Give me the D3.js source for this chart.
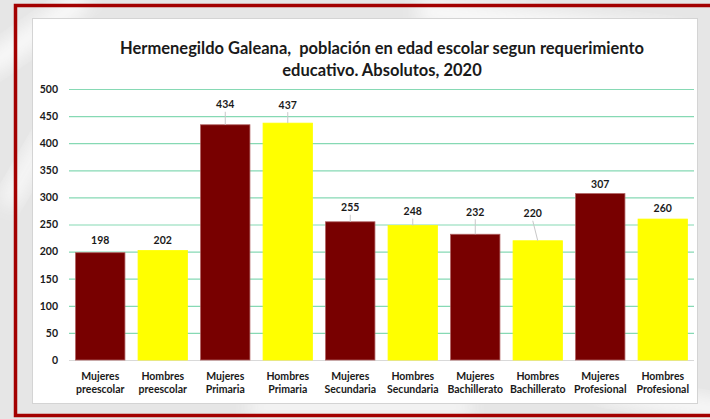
<!DOCTYPE html>
<html>
<head>
<meta charset="utf-8">
<script src="https://cdn.jsdelivr.net/npm/d3@7"></script>
<style>
  body { margin: 0; background: #ececec; }
  svg { display: block; }
</style>
</head>
<body>
<div id="chart"></div>
<script>
// chart data
var categories = ["Mujeres preescolar", "Hombres preescolar", "Mujeres Primaria", "Hombres Primaria",
                  "Mujeres Secundaria", "Hombres Secundaria", "Mujeres Bachillerato", "Hombres Bachillerato",
                  "Mujeres Profesional", "Hombres Profesional"];
var values = [198, 202, 434, 437, 255, 248, 232, 220, 307, 260];
var yTicks = [0, 50, 100, 150, 200, 250, 300, 350, 400, 450, 500];
var titleLines = ["Hermenegildo Galeana,  población en edad escolar segun requerimiento",
                  "educativo. Absolutos, 2020"];

// label placement as in the original (px above bar top, px shift sideways)
var labelLift = [12, 10, 20, 18, 14, 14, 22, 27, 9, 11];
var labelShift = [0, 0, 0, 0, 0, 0, 0, -5, 0, 0];

var W = 710, H = 419;
var font = "Lato, 'Open Sans', sans-serif";
var svg = d3.select("#chart").append("svg")
  .attr("width", W)
  .attr("height", H);

var defs = svg.append("defs");
var blur = defs.append("filter").attr("id", "blur")
  .attr("x", "-50%").attr("y", "-50%").attr("width", "200%").attr("height", "200%");
blur.append("feGaussianBlur").attr("stdDeviation", 9);

// textured grey background
svg.append("rect").attr("width", W).attr("height", H).attr("fill", "#e6e6e6");
var streaks = [[-20, 60, 120, 20, -35], [60, 340, 160, 18, -40], [420, 0, 260, 22, 6],
               [0, 200, 90, 16, -60], [600, 380, 200, 18, 10], [250, 400, 220, 14, 0]];
streaks.forEach(function (s) {
  svg.append("rect")
    .attr("x", s[0]).attr("y", s[1]).attr("width", s[2]).attr("height", s[3])
    .attr("fill", "#ffffff").attr("opacity", 0.85)
    .attr("transform", "rotate(" + s[4] + "," + s[0] + "," + s[1] + ")")
    .attr("filter", "url(#blur)");
});

// red frame
svg.append("rect")
  .attr("x", 15.5).attr("y", 5.5).attr("width", 720).attr("height", 410)
  .attr("fill", "none").attr("stroke", "#a30000").attr("stroke-width", 3.5);

// chart area
svg.append("rect")
  .attr("x", 32.5).attr("y", 18.5).attr("width", 665).attr("height", 385)
  .attr("fill", "#ffffff").attr("stroke", "#d4d4d4");

var title = svg.append("text")
  .attr("text-anchor", "middle")
  .style("font-family", font)
  .style("font-size", "16.5px")
  .style("font-weight", "bold")
  .style("white-space", "pre")
  .attr("fill", "#1a1a1a");
titleLines.forEach(function (t, i) {
  title.append("tspan").attr("x", 382).attr("y", 54 + i * 22).text(t);
});

var margin = { left: 69, right: 16, top: 89, bottom: 59 };
var x = d3.scaleBand()
  .domain(categories)
  .range([margin.left, W - margin.right])
  .paddingInner(0.21)
  .paddingOuter(0.105);
var y = d3.scaleLinear()
  .domain([0, 500])
  .range([H - margin.bottom, margin.top]);

// y axis with gridlines
var yAxis = svg.append("g")
  .attr("transform", "translate(" + margin.left + ",0)")
  .call(d3.axisLeft(y).tickValues(yTicks).tickSize(-(W - margin.right - margin.left)).tickPadding(11));
yAxis.select(".domain").remove();
yAxis.selectAll(".tick line")
  .attr("stroke", function (d) { return d === 0 ? "#d9d9d9" : "#86d9b4"; })
  .attr("stroke-width", 1.2);
yAxis.selectAll(".tick text")
  .style("font-family", font)
  .style("font-size", "10.5px")
  .style("font-weight", "bold")
  .attr("fill", "#1a1a1a");

// bars
svg.selectAll("rect.bar")
  .data(values)
  .enter().append("rect")
  .attr("class", "bar")
  .attr("x", function (d, i) { return x(categories[i]); })
  .attr("y", function (d) { return y(d); })
  .attr("width", x.bandwidth())
  .attr("height", function (d) { return y(0) - y(d); })
  .attr("fill", function (d, i) { return i % 2 === 0 ? "#780000" : "#ffff00"; })
  .attr("stroke", function (d, i) { return i % 2 === 0 ? "#b06060" : "#ffff00"; })
  .attr("stroke-width", 0.8);

// leader lines
values.forEach(function (d, i) {
  if (labelLift[i] < 13) return;
  var cx = x(categories[i]) + x.bandwidth() / 2;
  svg.append("line")
    .attr("x1", cx + labelShift[i]).attr("y1", y(d) - labelLift[i] + 7)
    .attr("x2", cx).attr("y2", y(d))
    .attr("stroke", "#c8c8c8").attr("stroke-width", 1);
});

// value labels
svg.selectAll("text.val")
  .data(values)
  .enter().append("text")
  .attr("class", "val")
  .attr("x", function (d, i) { return x(categories[i]) + x.bandwidth() / 2 + labelShift[i]; })
  .attr("y", function (d, i) { return y(d) - labelLift[i] + 3.5; })
  .attr("text-anchor", "middle")
  .style("font-family", font)
  .style("font-size", "10.5px")
  .style("font-weight", "bold")
  .attr("fill", "#1a1a1a")
  .text(function (d) { return d; });

// x axis labels, two lines each
var xAxis = svg.append("g")
  .attr("transform", "translate(0," + y(0) + ")")
  .call(d3.axisBottom(x).tickSize(0).tickFormat(""));
xAxis.select(".domain").remove();
xAxis.selectAll(".tick text").remove();
xAxis.selectAll(".tick").each(function (d) {
  var g = d3.select(this);
  d.split(" ").forEach(function (p, k) {
    g.append("text")
      .attr("x", 0)
      .attr("y", 19.5 + k * 13.5)
      .attr("text-anchor", "middle")
      .style("font-family", font)
      .style("font-size", "10.5px")
      .style("font-weight", "bold")
      .attr("fill", "#1a1a1a")
      .text(p);
  });
});
</script>
</body>
</html>
